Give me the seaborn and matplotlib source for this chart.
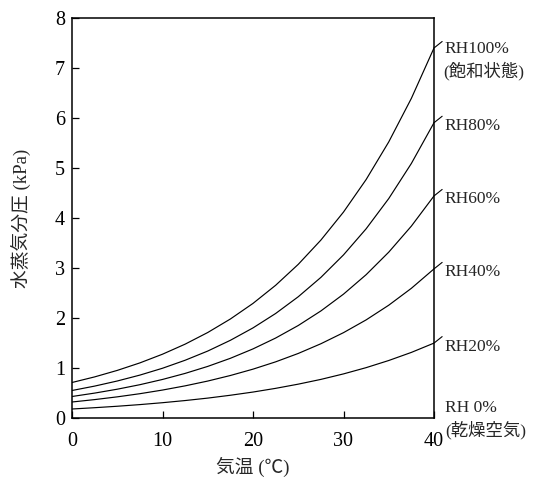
import numpy as np
import pandas as pd
import matplotlib
matplotlib.use("Agg")
import matplotlib.pyplot as plt
import seaborn as sns

# ---- data ----
temps = [0, 2.5, 5, 7.5, 10, 12.5, 15, 17.5, 20, 22.5, 25, 27.5, 30, 32.5, 35, 37.5, 40]
rh100 = [0.71, 0.822, 0.952, 1.102, 1.276, 1.477, 1.710, 1.980, 2.292, 2.654, 3.073, 3.558, 4.119, 4.769, 5.522, 6.393, 7.40]
rh80 = [0.55, 0.638, 0.740, 0.858, 0.995, 1.155, 1.339, 1.554, 1.802, 2.090, 2.425, 2.812, 3.262, 3.784, 4.389, 5.091, 5.905]
rh60 = [0.43, 0.498, 0.576, 0.666, 0.771, 0.892, 1.032, 1.194, 1.382, 1.599, 1.850, 2.141, 2.477, 2.866, 3.317, 3.838, 4.441]
rh40 = [0.32, 0.368, 0.423, 0.486, 0.559, 0.643, 0.739, 0.850, 0.977, 1.123, 1.291, 1.485, 1.707, 1.962, 2.256, 2.594, 2.982]
rh20 = [0.18, 0.206, 0.235, 0.268, 0.306, 0.349, 0.398, 0.455, 0.519, 0.593, 0.677, 0.772, 0.882, 1.007, 1.150, 1.312, 1.498]
series_names = ["RH100%", "RH80%", "RH60%", "RH40%", "RH20%"]
series_vals = [rh100, rh80, rh60, rh40, rh20]
label_texts = ["RH100%\n(飽和状態)", "RH80%", "RH60%", "RH40%", "RH20%"]
zero_label = "RH 0%\n(乾燥空気)"
x_ticks = [0, 10, 20, 30, 40]
y_ticks = [0, 1, 2, 3, 4, 5, 6, 7, 8]
x_label = "気温 (℃)"
y_label = "水蒸気分圧 (kPa)"

rows = []
for name, vals in zip(series_names, series_vals):
    for t, v in zip(temps, vals):
        rows.append({"T": t, "P": v, "RH": name})
df = pd.DataFrame(rows)

sns.set_style("white")
plt.rcParams["font.family"] = ["Liberation Serif", "Noto Sans CJK JP"]

fig = plt.figure(figsize=(5.34, 4.82), dpi=100)
ax = fig.add_axes([72 / 534, 1 - 418 / 482, (434 - 72) / 534, (418 - 18) / 482])

sns.lineplot(data=df, x="T", y="P", hue="RH", palette=["black"] * 5,
             legend=False, linewidth=0.85, ax=ax)

ax.set_xlim(0, 40)
ax.set_ylim(0, 8)
ax.set_xticks(x_ticks)
ax.set_yticks(y_ticks)
ax.tick_params(axis="both", direction="in", length=5, width=0.9,
               labelsize=14.5, colors="black", top=False, right=False,
               bottom=True, left=True)
ax.tick_params(axis="x", pad=10)
ax.tick_params(axis="y", pad=5)
for s in ax.spines.values():
    s.set_color("black")
    s.set_linewidth(1.1)

ax.set_xlabel(x_label, fontsize=13.5, labelpad=4)
ax.set_ylabel(y_label, fontsize=13.5, labelpad=17)

# right-side labels with short leader lines
for text, vals in zip(label_texts, series_vals):
    vend = vals[-1]
    ax.plot([40, 40.9], [vend, vend + 0.13], color="black", lw=0.8,
            clip_on=False)
    if "\n" in text:
        first, second = text.split("\n")
        ax.text(41.2, vend - 0.02, first, fontsize=12.5, va="center",
                ha="left", clip_on=False)
        ax.text(41.0, vend - 0.45, second, fontsize=12.5, va="center",
                ha="left", clip_on=False)
    else:
        ax.text(41.2, vend - 0.07, text, fontsize=12.5, va="center",
                ha="left", clip_on=False)

first, second = zero_label.split("\n")
ax.text(41.2, 0.2, first, fontsize=12.5, va="center", ha="left", clip_on=False)
ax.text(41.2, -0.24, second, fontsize=12.5, va="center", ha="left",
        clip_on=False)

fig.savefig("out.png", dpi=100)
